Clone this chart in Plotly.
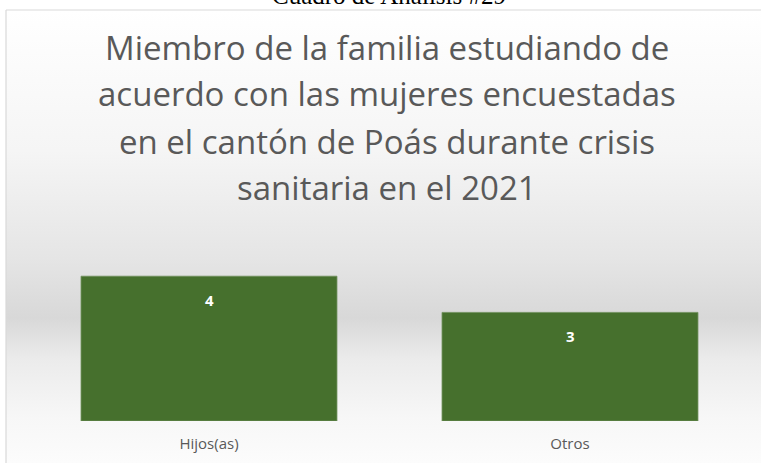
import base64
import plotly.graph_objects as go

# ---- data ----
categories = ["Hijos(as)", "Otros"]
values = [4, 3]
title_lines = [
    "Miembro de la familia estudiando de",
    "acuerdo con las mujeres encuestadas",
    "en el cantón de Poás durante crisis",
    "sanitaria en el 2021",
]
caption = "Cuadro de Análisis #29"

W, H = 761, 463
FONT = "'Open Sans', 'Noto Sans', sans-serif"
TXT = "#595959"

# background gradient (chart area fill) as an SVG image
svg = f"""<svg xmlns='http://www.w3.org/2000/svg' width='{W}' height='453' viewBox='0 0 {W} 453' preserveAspectRatio='none'>
<defs><linearGradient id='g' x1='0' y1='0' x2='0' y2='1'>
<stop offset='0' stop-color='#ffffff'/>
<stop offset='0.31' stop-color='#f5f5f5'/>
<stop offset='0.55' stop-color='#e5e5e5'/>
<stop offset='0.68' stop-color='#d8d8d8'/>
<stop offset='0.77' stop-color='#ebebeb'/>
<stop offset='0.90' stop-color='#f7f7f7'/>
<stop offset='1' stop-color='#fcfcfc'/>
</linearGradient></defs>
<rect x='0' y='0' width='{W}' height='453' fill='url(#g)'/>
</svg>"""
src = "data:image/svg+xml;base64," + base64.b64encode(svg.encode()).decode()

fig = go.Figure()
fig.add_trace(go.Bar(
    x=categories, y=values,
    marker=dict(color="#46702d", line=dict(color="#6e8f5a", width=0.8)),
    hoverinfo="skip",
))

annotations = []
# title lines
line_centers = [48, 94, 141, 188]
for line, yc in zip(title_lines, line_centers):
    annotations.append(dict(
        text=line, xref="paper", yref="paper", x=387 / W, y=1 - yc / H,
        xanchor="center", yanchor="middle", showarrow=False,
        font=dict(family=FONT, size=33, color=TXT),
    ))
# clipped caption above the chart frame
annotations.append(dict(
    text=caption, xref="paper", yref="paper", x=389 / W, y=1 - 11.5 / H,
    xanchor="center", yanchor="bottom", showarrow=False,
    font=dict(family="'Liberation Serif', 'Times New Roman', serif", size=25, color="#000000"),
))
# data labels inside bars
for c, v in zip(categories, values):
    annotations.append(dict(
        text=f"<b>{v}</b>", x=c, y=v, xref="x", yref="y", yshift=-24,
        xanchor="center", yanchor="middle", showarrow=False,
        font=dict(family=FONT, size=15, color="#ffffff"),
    ))

fig.update_layout(
    width=W, height=H,
    margin=dict(l=0, r=0, t=0, b=0),
    paper_bgcolor="#ffffff", plot_bgcolor="rgba(0,0,0,0)",
    showlegend=False,
    bargap=0.291,
    images=[dict(source=src, xref="paper", yref="paper", x=6 / W, y=1 - 10 / H,
                 sizex=1, sizey=453 / H, xanchor="left", yanchor="top",
                 sizing="stretch", layer="below")],
    shapes=[
        dict(type="line", xref="paper", yref="paper", x0=6 / W, x1=1, y0=1 - 10 / H, y1=1 - 10 / H,
             line=dict(color="#d9d9d9", width=1.2)),
        dict(type="line", xref="paper", yref="paper", x0=6 / W, x1=6 / W, y0=0, y1=1 - 10 / H,
             line=dict(color="#d9d9d9", width=1.2)),
    ],
    annotations=annotations,
    xaxis=dict(domain=[28.5 / W, 750.5 / W], range=[-0.5, 1.5], showgrid=False, zeroline=False,
               showline=False, ticks="", ticklabelstandoff=12,
               tickfont=dict(family=FONT, size=15, color=TXT), fixedrange=True),
    yaxis=dict(domain=[42 / H, 223 / H], range=[0, 5], visible=False, showgrid=False,
               zeroline=False, fixedrange=True),
)

fig.write_html("out.html", config={"displayModeBar": False},
               post_script="document.body.style.margin='0';document.body.style.overflow='hidden';")
